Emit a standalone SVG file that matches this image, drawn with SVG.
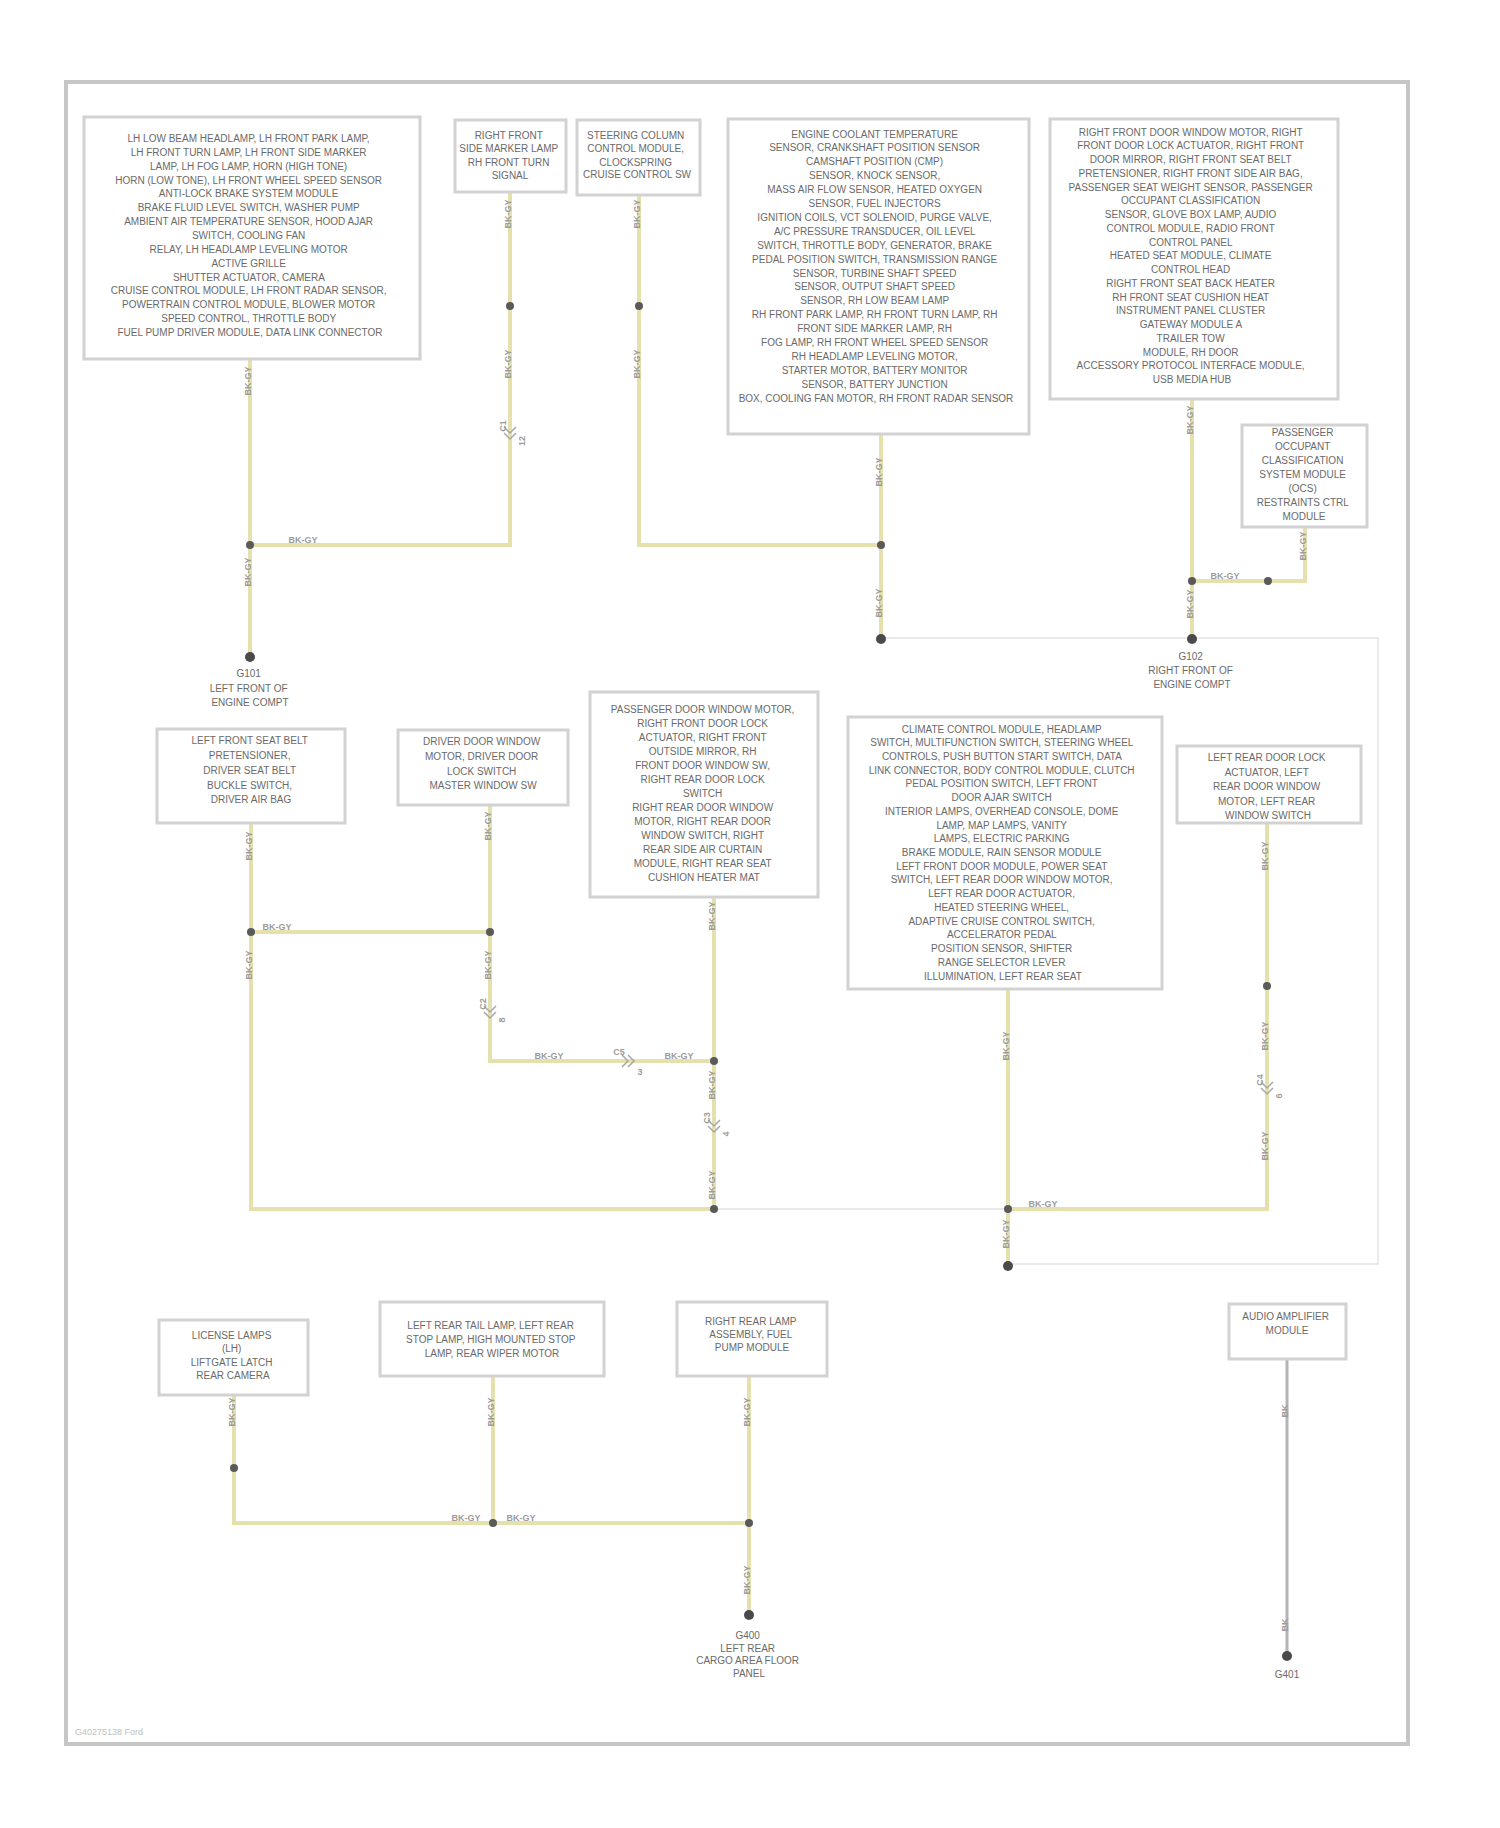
<svg xmlns="http://www.w3.org/2000/svg" width="1500" height="1828" viewBox="0 0 1500 1828">
<style>
.bg{fill:#fff}
.frame{fill:#fff;stroke:#c6c6c6;stroke-width:4}
.box{fill:#fff;stroke:#d2d2d2;stroke-width:3}
.t{font-family:"Liberation Sans",Arial,sans-serif;font-size:10px;fill:#6a6a6a;text-anchor:middle}
.w{fill:none;stroke:#e6e0ad;stroke-width:4}
.wg{fill:none;stroke:#b4b4b4;stroke-width:3}
.thin{fill:none;stroke:#e3e3e3;stroke-width:1.5}
.dot{fill:#5a5a5a}
.gnd{fill:#4a4a4a}
.lb{font-family:"Liberation Sans",Arial,sans-serif;font-size:9px;font-weight:bold;fill:#9c9c9c;text-anchor:middle}
.cn{fill:none;stroke:#a8a8a8;stroke-width:1.5}
.ft{font-family:"Liberation Sans",Arial,sans-serif;font-size:9px;fill:#c0c0c0}
</style>
<rect class="bg" x="0" y="0" width="1500" height="1828"/>
<rect class="frame" x="66" y="82" width="1342" height="1662"/>

<g id="connectors">
  <path class="thin" d="M881,638 H1378 V1264 H1008"/>
  <path class="thin" d="M714,1209 H1008"/>
  <path class="w" d="M250,359 V657"/>
  <path class="w" d="M250,545 H510 V192"/>
  <path class="w" d="M639,195 V545 H881"/>
  <path class="w" d="M881,434 V639"/>
  <path class="w" d="M1192,399 V639"/>
  <path class="w" d="M1192,581 H1305 V527"/>
  <path class="w" d="M251,823 V1209 H714"/>
  <path class="w" d="M251,932 H490"/>
  <path class="w" d="M490,805 V1061 H714"/>
  <path class="w" d="M714,897 V1209"/>
  <path class="w" d="M1008,989 V1266"/>
  <path class="w" d="M1008,1209 H1267 V823"/>
  <path class="w" d="M234,1395 V1523 H749"/>
  <path class="w" d="M493,1376 V1523"/>
  <path class="w" d="M749,1376 V1615"/>
  <path class="wg" d="M1287,1359 V1656"/>

  <g>
    <circle class="dot" cx="250" cy="545" r="4"/>
    <circle class="dot" cx="510" cy="306" r="4"/>
    <circle class="dot" cx="639" cy="306" r="4"/>
    <circle class="dot" cx="881" cy="545" r="4"/>
    <circle class="dot" cx="1192" cy="581" r="4"/>
    <circle class="dot" cx="1268" cy="581" r="4"/>
    <circle class="dot" cx="251" cy="932" r="4"/>
    <circle class="dot" cx="490" cy="932" r="4"/>
    <circle class="dot" cx="714" cy="1061" r="4"/>
    <circle class="dot" cx="714" cy="1209" r="4"/>
    <circle class="dot" cx="1008" cy="1209" r="4"/>
    <circle class="dot" cx="1267" cy="986" r="4"/>
    <circle class="dot" cx="234" cy="1468" r="4"/>
    <circle class="dot" cx="493" cy="1523" r="4"/>
    <circle class="dot" cx="749" cy="1523" r="4"/>
    <circle class="gnd" cx="250" cy="657" r="5"/>
    <circle class="gnd" cx="881" cy="639" r="5"/>
    <circle class="gnd" cx="1192" cy="639" r="5"/>
    <circle class="gnd" cx="1008" cy="1266" r="5"/>
    <circle class="gnd" cx="749" cy="1615" r="5"/>
    <circle class="gnd" cx="1287" cy="1656" r="5"/>
  </g>

  <g>
    <text class="lb" transform="translate(251,381) rotate(-90)">BK-GY</text>
    <text class="lb" transform="translate(251,572) rotate(-90)">BK-GY</text>
    <text class="lb" transform="translate(511,214) rotate(-90)">BK-GY</text>
    <text class="lb" transform="translate(511,364) rotate(-90)">BK-GY</text>
    <text class="lb" transform="translate(640,214) rotate(-90)">BK-GY</text>
    <text class="lb" transform="translate(640,364) rotate(-90)">BK-GY</text>
    <text class="lb" transform="translate(882,472) rotate(-90)">BK-GY</text>
    <text class="lb" transform="translate(882,603) rotate(-90)">BK-GY</text>
    <text class="lb" transform="translate(1193,420) rotate(-90)">BK-GY</text>
    <text class="lb" transform="translate(1193,604) rotate(-90)">BK-GY</text>
    <text class="lb" transform="translate(1306,546) rotate(-90)">BK-GY</text>
    <text class="lb" transform="translate(252,846) rotate(-90)">BK-GY</text>
    <text class="lb" transform="translate(252,965) rotate(-90)">BK-GY</text>
    <text class="lb" transform="translate(491,826) rotate(-90)">BK-GY</text>
    <text class="lb" transform="translate(491,965) rotate(-90)">BK-GY</text>
    <text class="lb" transform="translate(715,916) rotate(-90)">BK-GY</text>
    <text class="lb" transform="translate(715,1085) rotate(-90)">BK-GY</text>
    <text class="lb" transform="translate(715,1185) rotate(-90)">BK-GY</text>
    <text class="lb" transform="translate(1009,1046) rotate(-90)">BK-GY</text>
    <text class="lb" transform="translate(1009,1234) rotate(-90)">BK-GY</text>
    <text class="lb" transform="translate(1268,856) rotate(-90)">BK-GY</text>
    <text class="lb" transform="translate(1268,1036) rotate(-90)">BK-GY</text>
    <text class="lb" transform="translate(1268,1146) rotate(-90)">BK-GY</text>
    <text class="lb" transform="translate(235,1412) rotate(-90)">BK-GY</text>
    <text class="lb" transform="translate(494,1412) rotate(-90)">BK-GY</text>
    <text class="lb" transform="translate(750,1412) rotate(-90)">BK-GY</text>
    <text class="lb" transform="translate(750,1580) rotate(-90)">BK-GY</text>
    <text class="lb" transform="translate(1288,1411) rotate(-90)">BK</text>
    <text class="lb" transform="translate(1288,1625) rotate(-90)">BK</text>
    <text class="lb" x="303" y="543">BK-GY</text>
    <text class="lb" x="1225" y="579">BK-GY</text>
    <text class="lb" x="277" y="930">BK-GY</text>
    <text class="lb" x="549" y="1059">BK-GY</text>
    <text class="lb" x="679" y="1059">BK-GY</text>
    <text class="lb" x="1043" y="1207">BK-GY</text>
    <text class="lb" x="466" y="1521">BK-GY</text>
    <text class="lb" x="521" y="1521">BK-GY</text>
  </g>

  <g>
    <path class="cn" d="M504,427 L510,433 L516,427 M504,433 L510,439 L516,433"/>
    <text class="lb" transform="translate(506,426) rotate(-90)">C1</text>
    <text class="lb" transform="translate(525,441) rotate(-90)">12</text>
    <path class="cn" d="M484,1006 L490,1012 L496,1006 M484,1012 L490,1018 L496,1012"/>
    <text class="lb" transform="translate(486,1004) rotate(-90)">C2</text>
    <text class="lb" transform="translate(505,1020) rotate(-90)">8</text>
    <path class="cn" d="M708,1120 L714,1126 L720,1120 M708,1126 L714,1132 L720,1126"/>
    <text class="lb" transform="translate(710,1118) rotate(-90)">C3</text>
    <text class="lb" transform="translate(729,1134) rotate(-90)">4</text>
    <path class="cn" d="M1261,1082 L1267,1088 L1273,1082 M1261,1088 L1267,1094 L1273,1088"/>
    <text class="lb" transform="translate(1263,1080) rotate(-90)">C4</text>
    <text class="lb" transform="translate(1282,1096) rotate(-90)">6</text>
    <path class="cn" d="M622,1055 L628,1061 L622,1067 M628,1055 L634,1061 L628,1067"/>
    <text class="lb" x="619" y="1055">C5</text>
    <text class="lb" x="640" y="1075">3</text>
  </g>
</g>

<g id="n-b1">
  <rect class="box" x="84" y="117" width="336" height="242"/>
  <text class="t">
    <tspan x="250" y="142">LH LOW BEAM HEADLAMP, LH FRONT PARK LAMP,</tspan>
    <tspan x="250" y="155.8">LH FRONT TURN LAMP, LH FRONT SIDE MARKER</tspan>
    <tspan x="250" y="169.7">LAMP, LH FOG LAMP, HORN (HIGH TONE)</tspan>
    <tspan x="250" y="183.5">HORN (LOW TONE), LH FRONT WHEEL SPEED SENSOR</tspan>
    <tspan x="250" y="197.4">ANTI-LOCK BRAKE SYSTEM MODULE</tspan>
    <tspan x="250" y="211.2">BRAKE FLUID LEVEL SWITCH, WASHER PUMP</tspan>
    <tspan x="250" y="225.1">AMBIENT AIR TEMPERATURE SENSOR, HOOD AJAR</tspan>
    <tspan x="250" y="238.9">SWITCH, COOLING FAN</tspan>
    <tspan x="250" y="252.8">RELAY, LH HEADLAMP LEVELING MOTOR</tspan>
    <tspan x="250" y="266.6">ACTIVE GRILLE</tspan>
    <tspan x="250" y="280.5">SHUTTER ACTUATOR, CAMERA</tspan>
    <tspan x="250" y="294.3">CRUISE CONTROL MODULE, LH FRONT RADAR SENSOR,</tspan>
    <tspan x="250" y="308.2">POWERTRAIN CONTROL MODULE, BLOWER MOTOR</tspan>
    <tspan x="250" y="322">SPEED CONTROL, THROTTLE BODY</tspan>
    <tspan x="250" y="335.9">FUEL PUMP DRIVER MODULE, DATA LINK CONNECTOR</tspan>
  </text>
</g>

<g id="n-b2">
  <rect class="box" x="455" y="120" width="111" height="72"/>
  <text class="t">
    <tspan x="510" y="138.5">RIGHT FRONT</tspan>
    <tspan x="510" y="151.5">SIDE MARKER LAMP</tspan>
    <tspan x="510" y="165.5">RH FRONT TURN</tspan>
    <tspan x="510" y="178.5">SIGNAL</tspan>
  </text>
</g>

<g id="n-b3">
  <rect class="box" x="577" y="120" width="123" height="75"/>
  <text class="t">
    <tspan x="637" y="138.5">STEERING COLUMN</tspan>
    <tspan x="637" y="151.5">CONTROL MODULE,</tspan>
    <tspan x="637" y="165.5">CLOCKSPRING</tspan>
    <tspan x="637" y="177.5">CRUISE CONTROL SW</tspan>
  </text>
</g>

<g id="n-b4">
  <rect class="box" x="728" y="119" width="301" height="315"/>
  <text class="t">
    <tspan x="876" y="137.5">ENGINE COOLANT TEMPERATURE</tspan>
    <tspan x="876" y="151.4">SENSOR, CRANKSHAFT POSITION SENSOR</tspan>
    <tspan x="876" y="165.3">CAMSHAFT POSITION (CMP)</tspan>
    <tspan x="876" y="179.2">SENSOR, KNOCK SENSOR,</tspan>
    <tspan x="876" y="193.1">MASS AIR FLOW SENSOR, HEATED OXYGEN</tspan>
    <tspan x="876" y="207">SENSOR, FUEL INJECTORS</tspan>
    <tspan x="876" y="220.9">IGNITION COILS, VCT SOLENOID, PURGE VALVE,</tspan>
    <tspan x="876" y="234.8">A/C PRESSURE TRANSDUCER, OIL LEVEL</tspan>
    <tspan x="876" y="248.7">SWITCH, THROTTLE BODY, GENERATOR, BRAKE</tspan>
    <tspan x="876" y="262.6">PEDAL POSITION SWITCH, TRANSMISSION RANGE</tspan>
    <tspan x="876" y="276.5">SENSOR, TURBINE SHAFT SPEED</tspan>
    <tspan x="876" y="290.4">SENSOR, OUTPUT SHAFT SPEED</tspan>
    <tspan x="876" y="304.3">SENSOR, RH LOW BEAM LAMP</tspan>
    <tspan x="876" y="318.2">RH FRONT PARK LAMP, RH FRONT TURN LAMP, RH</tspan>
    <tspan x="876" y="332.1">FRONT SIDE MARKER LAMP, RH</tspan>
    <tspan x="876" y="346">FOG LAMP, RH FRONT WHEEL SPEED SENSOR</tspan>
    <tspan x="876" y="359.9">RH HEADLAMP LEVELING MOTOR,</tspan>
    <tspan x="876" y="373.8">STARTER MOTOR, BATTERY MONITOR</tspan>
    <tspan x="876" y="387.7">SENSOR, BATTERY JUNCTION</tspan>
    <tspan x="876" y="401.6">BOX, COOLING FAN MOTOR, RH FRONT RADAR SENSOR</tspan>
  </text>
</g>

<g id="n-b5">
  <rect class="box" x="1050" y="119" width="288" height="280"/>
  <text class="t">
    <tspan x="1192" y="135.5">RIGHT FRONT DOOR WINDOW MOTOR, RIGHT</tspan>
    <tspan x="1192" y="149.3">FRONT DOOR LOCK ACTUATOR, RIGHT FRONT</tspan>
    <tspan x="1192" y="163">DOOR MIRROR, RIGHT FRONT SEAT BELT</tspan>
    <tspan x="1192" y="176.8">PRETENSIONER, RIGHT FRONT SIDE AIR BAG,</tspan>
    <tspan x="1192" y="190.5">PASSENGER SEAT WEIGHT SENSOR, PASSENGER</tspan>
    <tspan x="1192" y="204.3">OCCUPANT CLASSIFICATION</tspan>
    <tspan x="1192" y="218">SENSOR, GLOVE BOX LAMP, AUDIO</tspan>
    <tspan x="1192" y="231.8">CONTROL MODULE, RADIO FRONT</tspan>
    <tspan x="1192" y="245.5">CONTROL PANEL</tspan>
    <tspan x="1192" y="259.3">HEATED SEAT MODULE, CLIMATE</tspan>
    <tspan x="1192" y="273">CONTROL HEAD</tspan>
    <tspan x="1192" y="286.8">RIGHT FRONT SEAT BACK HEATER</tspan>
    <tspan x="1192" y="300.5">RH FRONT SEAT CUSHION HEAT</tspan>
    <tspan x="1192" y="314.3">INSTRUMENT PANEL CLUSTER</tspan>
    <tspan x="1192" y="328">GATEWAY MODULE A</tspan>
    <tspan x="1192" y="341.8">TRAILER TOW</tspan>
    <tspan x="1192" y="355.5">MODULE, RH DOOR</tspan>
    <tspan x="1192" y="369.3">ACCESSORY PROTOCOL INTERFACE MODULE,</tspan>
    <tspan x="1192" y="383">USB MEDIA HUB</tspan>
  </text>
</g>

<g id="n-b6">
  <rect class="box" x="1242" y="425" width="125" height="102"/>
  <text class="t">
    <tspan x="1304" y="435.5">PASSENGER</tspan>
    <tspan x="1304" y="449.5">OCCUPANT</tspan>
    <tspan x="1304" y="463.5">CLASSIFICATION</tspan>
    <tspan x="1304" y="477.5">SYSTEM MODULE</tspan>
    <tspan x="1304" y="491.5">(OCS)</tspan>
    <tspan x="1304" y="505.5">RESTRAINTS CTRL</tspan>
    <tspan x="1304" y="519.5">MODULE</tspan>
  </text>
</g>

<g id="n-g1">
  <text class="t">
    <tspan x="250" y="676.5">G101</tspan>
    <tspan x="250" y="691.5">LEFT FRONT OF</tspan>
    <tspan x="250" y="705.5">ENGINE COMPT</tspan>
  </text>
</g>

<g id="n-g2">
  <text class="t">
    <tspan x="1192" y="659.5">G102</tspan>
    <tspan x="1192" y="673.5">RIGHT FRONT OF</tspan>
    <tspan x="1192" y="687.5">ENGINE COMPT</tspan>
  </text>
</g>

<g id="n-m1">
  <rect class="box" x="157" y="729" width="188" height="94"/>
  <text class="t">
    <tspan x="251" y="743.5">LEFT FRONT SEAT BELT</tspan>
    <tspan x="251" y="758.5">PRETENSIONER,</tspan>
    <tspan x="251" y="773.5">DRIVER SEAT BELT</tspan>
    <tspan x="251" y="788.5">BUCKLE SWITCH,</tspan>
    <tspan x="251" y="802.5">DRIVER AIR BAG</tspan>
  </text>
</g>

<g id="n-m2">
  <rect class="box" x="398" y="730" width="170" height="75"/>
  <text class="t">
    <tspan x="483" y="744.5">DRIVER DOOR WINDOW</tspan>
    <tspan x="483" y="759.5">MOTOR, DRIVER DOOR</tspan>
    <tspan x="483" y="774.5">LOCK SWITCH</tspan>
    <tspan x="483" y="788.5">MASTER WINDOW SW</tspan>
  </text>
</g>

<g id="n-m3">
  <rect class="box" x="590" y="692" width="228" height="205"/>
  <text class="t">
    <tspan x="704" y="712.5">PASSENGER DOOR WINDOW MOTOR,</tspan>
    <tspan x="704" y="726.5">RIGHT FRONT DOOR LOCK</tspan>
    <tspan x="704" y="740.5">ACTUATOR, RIGHT FRONT</tspan>
    <tspan x="704" y="754.5">OUTSIDE MIRROR, RH</tspan>
    <tspan x="704" y="768.5">FRONT DOOR WINDOW SW,</tspan>
    <tspan x="704" y="782.5">RIGHT REAR DOOR LOCK</tspan>
    <tspan x="704" y="796.5">SWITCH</tspan>
    <tspan x="704" y="810.5">RIGHT REAR DOOR WINDOW</tspan>
    <tspan x="704" y="824.5">MOTOR, RIGHT REAR DOOR</tspan>
    <tspan x="704" y="838.5">WINDOW SWITCH, RIGHT</tspan>
    <tspan x="704" y="852.5">REAR SIDE AIR CURTAIN</tspan>
    <tspan x="704" y="866.5">MODULE, RIGHT REAR SEAT</tspan>
    <tspan x="704" y="880.5">CUSHION HEATER MAT</tspan>
  </text>
</g>

<g id="n-m4">
  <rect class="box" x="848" y="717" width="314" height="272"/>
  <text class="t">
    <tspan x="1003" y="732.5">CLIMATE CONTROL MODULE, HEADLAMP</tspan>
    <tspan x="1003" y="746.2">SWITCH, MULTIFUNCTION SWITCH, STEERING WHEEL</tspan>
    <tspan x="1003" y="759.9">CONTROLS, PUSH BUTTON START SWITCH, DATA</tspan>
    <tspan x="1003" y="773.7">LINK CONNECTOR, BODY CONTROL MODULE, CLUTCH</tspan>
    <tspan x="1003" y="787.4">PEDAL POSITION SWITCH, LEFT FRONT</tspan>
    <tspan x="1003" y="801.1">DOOR AJAR SWITCH</tspan>
    <tspan x="1003" y="814.8">INTERIOR LAMPS, OVERHEAD CONSOLE, DOME</tspan>
    <tspan x="1003" y="828.5">LAMP, MAP LAMPS, VANITY</tspan>
    <tspan x="1003" y="842.3">LAMPS, ELECTRIC PARKING</tspan>
    <tspan x="1003" y="856">BRAKE MODULE, RAIN SENSOR MODULE</tspan>
    <tspan x="1003" y="869.7">LEFT FRONT DOOR MODULE, POWER SEAT</tspan>
    <tspan x="1003" y="883.4">SWITCH, LEFT REAR DOOR WINDOW MOTOR,</tspan>
    <tspan x="1003" y="897.1">LEFT REAR DOOR ACTUATOR,</tspan>
    <tspan x="1003" y="910.9">HEATED STEERING WHEEL,</tspan>
    <tspan x="1003" y="924.6">ADAPTIVE CRUISE CONTROL SWITCH,</tspan>
    <tspan x="1003" y="938.3">ACCELERATOR PEDAL</tspan>
    <tspan x="1003" y="952">POSITION SENSOR, SHIFTER</tspan>
    <tspan x="1003" y="965.7">RANGE SELECTOR LEVER</tspan>
    <tspan x="1003" y="979.5">ILLUMINATION, LEFT REAR SEAT</tspan>
  </text>
</g>

<g id="n-m5">
  <rect class="box" x="1177" y="746" width="184" height="77"/>
  <text class="t">
    <tspan x="1268" y="760.5">LEFT REAR DOOR LOCK</tspan>
    <tspan x="1268" y="775.5">ACTUATOR, LEFT</tspan>
    <tspan x="1268" y="789.5">REAR DOOR WINDOW</tspan>
    <tspan x="1268" y="804.5">MOTOR, LEFT REAR</tspan>
    <tspan x="1268" y="818.5">WINDOW SWITCH</tspan>
  </text>
</g>

<g id="n-l1">
  <rect class="box" x="159" y="1320" width="149" height="75"/>
  <text class="t">
    <tspan x="233" y="1338.5">LICENSE LAMPS</tspan>
    <tspan x="233" y="1351.5">(LH)</tspan>
    <tspan x="233" y="1365.5">LIFTGATE LATCH</tspan>
    <tspan x="233" y="1378.5">REAR CAMERA</tspan>
  </text>
</g>

<g id="n-l2">
  <rect class="box" x="380" y="1302" width="224" height="74"/>
  <text class="t">
    <tspan x="492" y="1328.5">LEFT REAR TAIL LAMP, LEFT REAR</tspan>
    <tspan x="492" y="1342.5">STOP LAMP, HIGH MOUNTED STOP</tspan>
    <tspan x="492" y="1356.5">LAMP, REAR WIPER MOTOR</tspan>
  </text>
</g>

<g id="n-l3">
  <rect class="box" x="677" y="1302" width="150" height="74"/>
  <text class="t">
    <tspan x="752" y="1324.5">RIGHT REAR LAMP</tspan>
    <tspan x="752" y="1337.5">ASSEMBLY, FUEL</tspan>
    <tspan x="752" y="1350.5">PUMP MODULE</tspan>
  </text>
</g>

<g id="n-l4">
  <rect class="box" x="1229" y="1304" width="117" height="55"/>
  <text class="t">
    <tspan x="1287" y="1319.5">AUDIO AMPLIFIER</tspan>
    <tspan x="1287" y="1333.5">MODULE</tspan>
  </text>
</g>

<g id="n-g3">
  <text class="t">
    <tspan x="749" y="1638.5">G400</tspan>
    <tspan x="749" y="1651.5">LEFT REAR</tspan>
    <tspan x="749" y="1663.5">CARGO AREA FLOOR</tspan>
    <tspan x="749" y="1676.5">PANEL</tspan>
  </text>
</g>

<g id="n-g4">
  <text class="t"><tspan x="1287" y="1677.5">G401</tspan></text>
</g>

<text class="ft" x="75" y="1735">G40275138 Ford</text>
</svg>
